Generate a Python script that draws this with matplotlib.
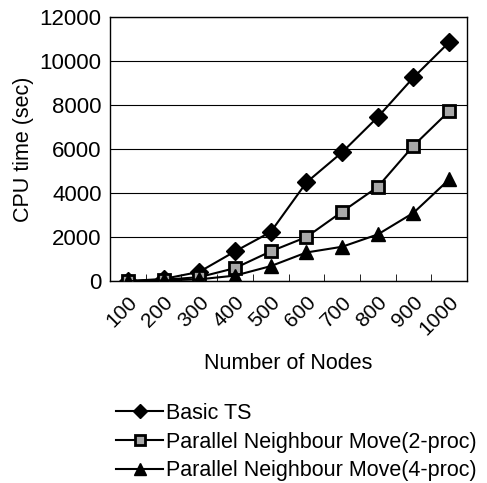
import matplotlib.pyplot as plt

plt.rcParams['font.family'] = ['Liberation Sans', 'DejaVu Sans']

# Data
nodes = ['100', '200', '300', '400', '500', '600', '700', '800', '900', '1000']
basic_ts = [0, 100, 420, 1350, 2230, 4480, 5850, 7450, 9250, 10850]
pnm_2proc = [0, 60, 180, 590, 1350, 2000, 3150, 4280, 6150, 7720]
pnm_4proc = [0, 30, 80, 250, 680, 1300, 1560, 2120, 3100, 4620]

fig = plt.figure(figsize=(4.87, 4.83), dpi=100)
ax = fig.add_axes([0.226, 0.418, 0.733, 0.547])

pos = list(range(1, len(nodes) + 1))
ax.plot(pos, basic_ts, color='black', lw=1.5, marker='D', ms=9,
        mfc='black', mec='black', label='Basic TS', zorder=3)
ax.plot(pos, pnm_2proc, color='black', lw=1.5, marker='s', ms=9,
        mfc='#a8a8a8', mec='black', mew=2, label='Parallel Neighbour Move(2-proc)', zorder=3)
ax.plot(pos, pnm_4proc, color='black', lw=1.5, marker='^', ms=10,
        mfc='black', mec='black', label='Parallel Neighbour Move(4-proc)', zorder=3)

ax.set_xlim(0.5, len(nodes) + 0.5)
ax.set_ylim(0, 12000)
ax.set_yticks(range(0, 12001, 2000))
ax.yaxis.grid(True, color='black', lw=0.8)
ax.tick_params(axis='y', length=0, labelsize=16, pad=6)

ax.set_xticks(pos)
ax.set_xticklabels(nodes, rotation=45, ha='right', va='top', rotation_mode='anchor', fontsize=15)
ax.tick_params(axis='x', which='major', length=0, pad=8)
ax.set_xticks([p + 0.5 for p in pos[:-1]], minor=True)
ax.tick_params(axis='x', which='minor', direction='in', length=5, color='black')

for s in ax.spines.values():
    s.set_color('black')
    s.set_linewidth(1.0)

ax.set_ylabel('CPU time (sec)', fontsize=15.5, labelpad=4)
ax.set_xlabel('Number of Nodes', fontsize=15.5, labelpad=10)

fig.legend(loc='upper left', bbox_to_anchor=(0.238, 0.166), frameon=False,
           fontsize=15.5, handlelength=2.2, handletextpad=0.15, labelspacing=0.36,
           markerscale=0.8, borderpad=0, borderaxespad=0)

fig.savefig('out.png', dpi=100)
